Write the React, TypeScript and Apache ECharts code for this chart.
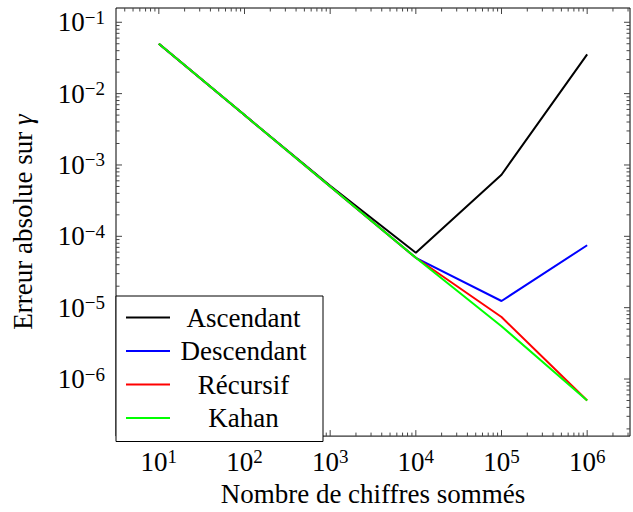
import React, { useEffect, useRef } from 'react';
import * as echarts from 'echarts';

const sizes = [10, 100, 1000, 10000, 100000, 1000000];
const ascendant = [0.05, 0.005, 5.1e-4, 5.9e-5, 7.3e-4, 0.0354];
const descendant = [0.05, 0.005, 5e-4, 5e-5, 1.24e-5, 7.5e-5];
const recursif = [0.05, 0.005, 5e-4, 5e-5, 7.4e-6, 5e-7];
const kahan = [0.05, 0.005, 5e-4, 5e-5, 5.5e-6, 5e-7];

const seriesNames = ['Ascendant', 'Descendant', 'Récursif', 'Kahan'];
const seriesValues = [ascendant, descendant, recursif, kahan];
const seriesColors = ['#000000', '#0000ff', '#ff0000', '#00ff00'];

const xTitle = 'Nombre de chiffres sommés';
const yTitle = 'Erreur absolue sur ';
const xMinExp = 0.5;
const xMaxExp = 6.5;
const yMinExp = -6.8;
const yMaxExp = -0.8;

const F = "'Liberation Serif', 'DejaVu Serif', serif";

function logTicks(minExp: number, maxExp: number) {
  const out: { v: number; major: number }[] = [];
  for (let k = Math.floor(minExp); k <= Math.ceil(maxExp); k++) {
    for (let m = 1; m <= 9; m++) {
      const v = m * Math.pow(10, k);
      const l = Math.log10(v);
      if (l > minExp + 1e-9 && l < maxExp - 1e-9) out.push({ v, major: m === 1 ? 1 : 0 });
    }
  }
  return out;
}

function fmt(value: number) {
  const l = Math.log10(value);
  const r = Math.round(l);
  if (Math.abs(l - r) > 1e-6) return '';
  const e = r < 0 ? '\u2212' + Math.abs(r) : String(r);
  return '{b|10}{e|' + e + '}';
}

const labelRich = {
  b: { fontSize: 27, fontFamily: F, color: '#000' },
  e: { fontSize: 19, fontFamily: F, color: '#000', padding: [0, 0, 10, 0] },
};

export default function App() {
  const ref = useRef<HTMLDivElement>(null);
  useEffect(() => {
    if (!ref.current) return;
    const chart = echarts.init(ref.current, undefined, { renderer: 'svg' });
    const xRef = 1000;
    const yRef = 1e-3;
    const xt = logTicks(xMinExp, xMaxExp).map((t) => [t.v, yRef, t.major]);
    const yt = logTicks(yMinExp, yMaxExp).map((t) => [xRef, t.v, t.major]);
    const tickStyle = { stroke: '#444', lineWidth: 1 };
    chart.setOption({
      animation: false,
      backgroundColor: '#fff',
      textStyle: { fontFamily: F },
      grid: {
        left: 116,
        top: 8,
        right: 0.5,
        bottom: 74,
        show: true,
        borderColor: '#000',
        borderWidth: 1,
        backgroundColor: 'transparent',
        z: 5,
      },
      legend: {
        data: seriesNames,
        left: 116,
        top: 296,
        orient: 'vertical',
        icon: 'rect',
        itemWidth: 44,
        itemHeight: 2,
        itemGap: 6.5,
        padding: [8, 11, 10, 10],
        backgroundColor: '#fff',
        borderColor: '#000',
        borderWidth: 1,
        selectedMode: false,
        formatter: (name: string) => '{n|' + name + '}',
        textStyle: {
          color: '#000',
          fontFamily: F,
          fontSize: 27,
          rich: {
            n: { width: 137, align: 'center', fontSize: 27, fontFamily: F, lineHeight: 26, color: '#000' },
          },
        },
        z: 10,
      },
      xAxis: {
        type: 'log',
        logBase: 10,
        min: Math.pow(10, xMinExp),
        max: Math.pow(10, xMaxExp),
        name: xTitle,
        nameLocation: 'middle',
        nameGap: 43,
        nameTextStyle: { fontFamily: F, fontSize: 27, color: '#000' },
        axisLine: { show: false },
        axisTick: { show: false },
        splitLine: { show: false },
        axisLabel: { margin: 11, formatter: fmt, rich: labelRich },
      },
      yAxis: {
        type: 'log',
        logBase: 10,
        min: Math.pow(10, yMinExp),
        max: Math.pow(10, yMaxExp),
        name: yTitle + '{g|γ}',
        nameLocation: 'middle',
        nameGap: 80,
        nameTextStyle: {
          fontFamily: F,
          fontSize: 27,
          color: '#000',
          rich: { g: { fontStyle: 'italic', fontFamily: F, fontSize: 27, color: '#000' } },
        },
        axisLine: { show: false },
        axisTick: { show: false },
        splitLine: { show: false },
        axisLabel: { margin: 11, formatter: fmt, rich: labelRich },
      },
      series: [
        ...seriesNames.map((name, i) => ({
          type: 'line',
          name,
          data: sizes.map((s, j) => [s, seriesValues[i][j]]),
          showSymbol: false,
          symbol: 'none',
          color: seriesColors[i],
          lineStyle: { color: seriesColors[i], width: 2 },
          z: 3 + i * 0.01,
        })),
        {
          type: 'custom',
          name: 'xticks',
          data: xt,
          encode: { x: 0, y: 1 },
          clip: false,
          silent: true,
          z: 6,
          renderItem: (params: any, api: any) => {
            const cs = params.coordSys;
            const x = api.coord([api.value(0), yRef])[0];
            const len = api.value(2) ? 6 : 3.5;
            const b = cs.y + cs.height;
            return {
              type: 'group',
              children: [
                { type: 'line', shape: { x1: x, y1: b, x2: x, y2: b - len }, style: tickStyle },
                { type: 'line', shape: { x1: x, y1: cs.y, x2: x, y2: cs.y + len }, style: tickStyle },
              ],
            };
          },
        },
        {
          type: 'custom',
          name: 'yticks',
          data: yt,
          encode: { x: 0, y: 1 },
          clip: false,
          silent: true,
          z: 6,
          renderItem: (params: any, api: any) => {
            const cs = params.coordSys;
            const y = api.coord([xRef, api.value(1)])[1];
            const len = api.value(2) ? 6 : 3.5;
            const r = cs.x + cs.width;
            return {
              type: 'group',
              children: [
                { type: 'line', shape: { x1: cs.x, y1: y, x2: cs.x + len, y2: y }, style: tickStyle },
                { type: 'line', shape: { x1: r, y1: y, x2: r - len, y2: y }, style: tickStyle },
              ],
            };
          },
        },
      ],
    });
    return () => chart.dispose();
  }, []);
  return <div ref={ref} style={{ position: 'absolute', left: 0, top: 0, width: 633, height: 512 }} />;
}
